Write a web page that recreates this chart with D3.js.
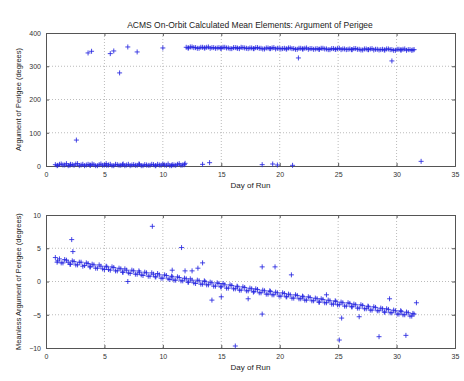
<!DOCTYPE html>
<html>
<head>
<meta charset="utf-8">
<script src="https://cdn.jsdelivr.net/npm/d3@7"></script>
<style>
  body { margin: 0; background: #fff; }
  text { font-family: "Liberation Sans", Arial, sans-serif; }
</style>
</head>
<body>
<div id="chart"></div>
<script>
// day of run for each regular sample (shared by both panels)
const days = [
    0.8,1.0,1.3,1.6,1.9,2.1,2.4,2.7,3.0,3.3,
    3.6,3.8,4.1,4.4,4.7,5.0,5.2,5.5,5.8,6.1,
    6.4,6.6,6.9,7.2,7.5,7.8,8.0,8.3,8.6,8.9,
    9.2,9.4,9.7,10.0,10.3,10.6,10.8,11.1,11.4,11.7,
    12.0,12.2,12.5,12.8,13.1,13.4,13.6,13.9,14.2,14.5,
    14.8,15.0,15.3,15.6,15.9,16.2,16.4,16.7,17.0,17.3,
    17.6,17.8,18.1,18.4,18.7,19.0,19.2,19.5,19.8,20.1,
    20.4,20.6,20.9,21.2,21.5,21.8,22.0,22.3,22.6,22.9,
    23.2,23.4,23.7,24.0,24.3,24.6,24.8,25.1,25.4,25.7,
    26.0,26.2,26.5,26.8,27.1,27.4,27.6,27.9,28.2,28.5,
    28.8,29.0,29.3,29.6,29.9,30.2,30.4,30.7,31.0,31.3,
    31.5
];
// second pass of samples, between the first ones
const days2 = [
    0.95,1.15,1.45,1.75,2.05,2.25,2.55,2.85,3.15,3.45,
    3.75,3.95,4.25,4.55,4.85,5.15,5.35,5.65,5.95,6.25,
    6.55,6.75,7.05,7.35,7.65,7.95,8.15,8.45,8.75,9.05,
    9.35,9.55,9.85,10.15,10.45,10.75,10.95,11.25,11.55,11.85,
    12.15,12.35,12.65,12.95,13.25,13.55,13.75,14.05,14.35,14.65,
    14.95,15.15,15.45,15.75,16.05,16.35,16.55,16.85,17.15,17.45,
    17.75,17.95,18.25,18.55,18.85,19.15,19.35,19.65,19.95,20.25,
    20.55,20.75,21.05,21.35,21.65,21.95,22.15,22.45,22.75,23.05,
    23.35,23.55,23.85,24.15,24.45,24.75,24.95,25.25,25.55,25.85,
    26.15,26.35,26.65,26.95,27.25,27.55,27.75,28.05,28.35,28.65,
    28.95,29.15,29.45,29.75,30.05,30.35,30.55,30.85,31.15,31.4
];

// argument of perigee (deg)
const perigee = [
    4,2,6,3,1,5,2,7,3,1,
    5,2,4,1,6,3,2,5,1,4,
    2,6,3,1,4,2,5,1,3,2,
    4,1,3,6,2,1,4,2,7,3,
    357,355,358,356,354,357,355,358,356,354,
    356,354,357,355,353,356,354,357,355,353,
    355,353,356,354,352,355,353,356,354,352,
    354,352,355,353,351,354,352,355,353,351,
    353,351,354,352,350,353,351,354,352,350,
    352,350,353,351,349,352,350,353,351,349,
    351,349,352,350,348,351,349,352,350,348,
    350
];
const perigee2 = [
    1,5,3,7,2,4,6,1,5,3,
    3,6,1,4,2,7,3,1,5,2,
    4,1,5,3,2,6,1,4,2,5,
    1,5,2,3,6,1,3,5,2,4,
    355,358,356,354,357,355,357,354,356,355,
    354,357,355,353,356,355,353,356,354,355,
    353,356,354,352,355,353,355,352,354,353,
    352,355,353,351,354,352,354,351,353,352,
    351,354,352,350,353,351,353,350,352,351,
    350,353,351,349,352,350,352,349,351,350,
    349,352,350,348,351,349,351,348,350,349
];

// residual argument of perigee (deg)
const residual = [
    3.6,3.1,2.8,3.3,2.9,2.6,3.0,2.5,2.9,2.4,
    2.7,2.2,2.5,2.0,2.3,1.8,2.2,1.7,2.1,1.6,
    1.9,1.4,1.7,1.2,1.6,1.1,1.4,0.9,1.3,0.8,
    1.1,0.7,1.0,0.5,0.9,0.3,0.7,0.2,0.6,0.1,
    0.4,-0.1,0.2,-0.3,0.1,-0.4,0.0,-0.5,-0.2,-0.7,
    -0.3,-0.8,-0.5,-1.0,-0.6,-1.1,-0.8,-1.3,-0.9,-1.4,
    -1.1,-1.5,-1.2,-1.7,-1.4,-1.9,-1.5,-2.0,-1.7,-2.2,
    -1.8,-2.3,-2.0,-2.5,-2.1,-2.6,-2.3,-2.8,-2.4,-2.9,
    -2.6,-3.1,-2.7,-3.2,-2.9,-3.4,-3.0,-3.5,-3.2,-3.7,
    -3.3,-3.8,-3.5,-4.0,-3.6,-4.1,-3.8,-4.3,-3.9,-4.4,
    -4.1,-4.6,-4.2,-4.7,-4.4,-4.9,-4.5,-5.0,-4.7,-5.2,
    -4.9
];
const residual2 = [
    2.9,3.4,2.8,3.2,2.6,3.1,2.5,2.9,2.3,2.8,
    2.2,2.6,2.0,2.5,1.9,2.3,1.8,2.2,1.6,2.0,
    1.4,1.9,1.3,1.7,1.1,1.6,1.0,1.4,0.8,1.3,
    0.7,1.2,0.5,1.0,0.4,0.8,0.2,0.7,0.1,0.5,
    -0.1,0.4,-0.2,0.2,-0.4,0.1,-0.5,-0.1,-0.7,-0.2,
    -0.8,-0.3,-1.0,-0.5,-1.1,-0.7,-1.3,-0.8,-1.4,-1.0,
    -1.6,-1.1,-1.7,-1.3,-1.9,-1.4,-2.0,-1.6,-2.2,-1.7,
    -2.3,-1.9,-2.5,-2.0,-2.6,-2.2,-2.8,-2.3,-2.9,-2.5,
    -3.1,-2.6,-3.2,-2.8,-3.4,-2.9,-3.5,-3.1,-3.7,-3.2,
    -3.8,-3.4,-4.0,-3.5,-4.1,-3.7,-4.3,-3.8,-4.4,-4.0,
    -4.6,-4.1,-4.7,-4.3,-4.9,-4.4,-5.0,-4.6,-5.2,-4.8
];

// stray samples [day, value]
const perigeeStray = [
    [2.6,78],[3.6,340],[3.9,345],[5.5,338],[5.8,346],[6.3,280],[7.0,358],
    [7.8,343],[10.0,355],[11.9,8],[13.4,5],[14.0,10],[18.5,4],[19.4,6],
    [19.8,3],[21.1,2],[21.6,325],[29.6,316],[32.1,14]
];
const residualStray = [
    [2.2,6.3],[2.3,4.5],[9.1,8.3],[7.0,0.0],[11.6,5.1],[10.8,1.7],[11.9,1.6],
    [12.5,1.6],[13.0,2.0],[13.4,2.8],[14.2,-2.8],[15.0,-2.3],[16.2,-9.7],
    [17.3,-2.6],[18.5,2.2],[19.6,2.2],[21.0,1.0],[18.5,-4.9],[24.0,-2.0],
    [25.3,-5.5],[25.1,-8.8],[26.8,-5.3],[28.5,-8.3],[29.4,-2.6],[30.8,-8.1],
    [31.7,-3.2]
];

const xTicks = [0,5,10,15,20,25,30,35];
const topTicks = [0,100,200,300,400];
const botTicks = [-10,-5,0,5,10];

const W = 464, H = 381;
const svg = d3.select("#chart").append("svg")
    .attr("width", W).attr("height", H);
svg.append("rect").attr("width", W).attr("height", H).attr("fill", "#fff");

const left = 46, right = 455;

function panel(top, bottom, yDomain, yTicks, pts, yLabel) {
    const x = d3.scaleLinear().domain([0, 35]).range([left, right]);
    const y = d3.scaleLinear().domain(yDomain).range([bottom, top]);
    const g = svg.append("g");

    // dotted grid
    g.selectAll(".gx").data(xTicks.slice(1, -1)).enter().append("line")
        .attr("x1", d => x(d)).attr("x2", d => x(d))
        .attr("y1", top).attr("y2", bottom)
        .attr("stroke", "#bbb").attr("stroke-dasharray", "1,2");
    g.selectAll(".gy").data(yTicks.slice(1, -1)).enter().append("line")
        .attr("x1", left).attr("x2", right)
        .attr("y1", d => y(d)).attr("y2", d => y(d))
        .attr("stroke", "#bbb").attr("stroke-dasharray", "1,2");

    // axes with inward ticks
    const xa = d3.axisBottom(x).tickValues(xTicks).tickSize(-3).tickPadding(6);
    const ya = d3.axisLeft(y).tickValues(yTicks).tickSize(-3).tickPadding(5);
    g.append("g").attr("transform", `translate(0,${bottom})`).call(xa);
    g.append("g").attr("transform", `translate(${left},0)`).call(ya);
    g.append("g").attr("transform", `translate(0,${top})`)
        .call(d3.axisTop(x).tickValues(xTicks).tickSize(-3).tickFormat(""));
    g.append("g").attr("transform", `translate(${right},0)`)
        .call(d3.axisRight(y).tickValues(yTicks).tickSize(-3).tickFormat(""));
    g.selectAll(".domain").attr("stroke", "#555");
    g.selectAll(".tick line").attr("stroke", "#555");
    g.selectAll(".tick text").attr("font-size", 7).attr("fill", "#333")
        .attr("font-family", "Liberation Sans, Arial, sans-serif");

    // '+' markers
    const s = 2.5;
    const m = g.append("g").attr("stroke", "#2626e0").attr("stroke-width", 0.85)
        .attr("fill", "none");
    m.selectAll("path").data(pts).enter().append("path")
        .attr("d", d => {
            const px = x(d[0]), py = y(d[1]);
            return `M${px - s},${py}H${px + s}M${px},${py - s}V${py + s}`;
        });

    g.append("text")
        .attr("x", (left + right) / 2).attr("y", bottom + 22)
        .attr("text-anchor", "middle").attr("font-size", 8).attr("fill", "#222")
        .text("Day of Run");
    g.append("text")
        .attr("transform", `translate(21,${(top + bottom) / 2}) rotate(-90)`)
        .attr("text-anchor", "middle").attr("font-size", 7.5).attr("fill", "#222")
        .text(yLabel);
}

const topPts = days.map((d, i) => [d, perigee[i]])
    .concat(days2.map((d, i) => [d, perigee2[i]]))
    .concat(perigeeStray);
const botPts = days.map((d, i) => [d, residual[i]])
    .concat(days2.map((d, i) => [d, residual2[i]]))
    .concat(residualStray);

panel(33, 166, [0, 400], topTicks, topPts, "Argument of Perigee (degrees)");
panel(215, 348, [-10, 10], botTicks, botPts, "Meanless Argument of Perigee (degrees)");

svg.append("text")
    .attr("x", 250).attr("y", 28)
    .attr("text-anchor", "middle").attr("font-size", 8.5).attr("fill", "#222")
    .text("ACMS On-Orbit Calculated Mean Elements: Argument of Perigee");
</script>
</body>
</html>
